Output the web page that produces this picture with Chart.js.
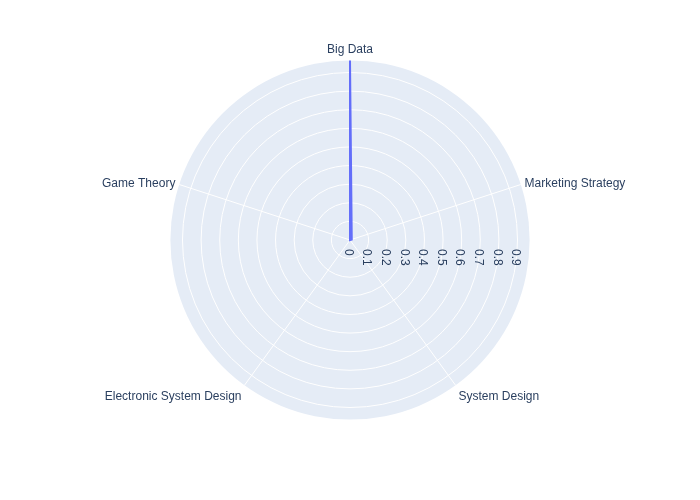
<!DOCTYPE html>
<html>
<head>
<meta charset="utf-8">
<script src="https://cdn.jsdelivr.net/npm/chart.js@4"></script>
<style>
  html, body { margin: 0; padding: 0; background: #ffffff; }
  #wrap { width: 700px; height: 500px; }
</style>
</head>
<body>
<div id="wrap"><canvas id="c" width="700" height="500"></canvas></div>
<script>
const categories = ['Big Data', 'Marketing Strategy', 'System Design', 'Electronic System Design', 'Game Theory'];
const seriesValues = [0.965, 0.01, 0, 0, 0];
const tickValues = [0, 0.1, 0.2, 0.3, 0.4, 0.5, 0.6, 0.7, 0.8, 0.9];
const tickLabels = ['0', '0.1', '0.2', '0.3', '0.4', '0.5', '0.6', '0.7', '0.8', '0.9'];
const radialMax = 0.965;

const FONT = '"Liberation Sans", Arial, sans-serif';
const TEXT = '#2a3f5f';

const polarBg = {
  id: 'polarBg',
  beforeDraw(chart) {
    const s = chart.scales.r;
    const ctx = chart.ctx;
    ctx.save();
    ctx.beginPath();
    ctx.arc(s.xCenter, s.yCenter, s.drawingArea, 0, Math.PI * 2);
    ctx.fillStyle = '#e5ecf6';
    ctx.fill();
    ctx.restore();
  }
};

const radialTicks = {
  id: 'radialTicks',
  afterDraw(chart) {
    const s = chart.scales.r;
    const ctx = chart.ctx;
    ctx.save();
    ctx.font = '12px ' + FONT;
    ctx.fillStyle = TEXT;
    ctx.textAlign = 'left';
    ctx.textBaseline = 'middle';
    tickValues.forEach((v, i) => {
      const d = s.getDistanceFromCenterForValue(v);
      ctx.save();
      ctx.translate(s.xCenter + d - 2, s.yCenter + 9);
      ctx.rotate(Math.PI / 2);
      ctx.fillText(tickLabels[i], 0, 0);
      ctx.restore();
    });
    ctx.restore();
  }
};

new Chart(document.getElementById('c'), {
  type: 'radar',
  data: {
    labels: categories,
    datasets: [{
      data: seriesValues,
      borderColor: '#636efa',
      borderWidth: 2,
      fill: false,
      pointRadius: 0,
      pointHoverRadius: 0,
      tension: 0
    }]
  },
  options: {
    responsive: false,
    animation: false,
    events: [],
    layout: { padding: { top: 33, bottom: 71, left: 0, right: 0 } },
    plugins: { legend: { display: false }, tooltip: { enabled: false } },
    scales: {
      r: {
        min: 0,
        max: radialMax,
        startAngle: 0,
        grid: { circular: true, color: '#ffffff', lineWidth: 1 },
        angleLines: { color: '#ffffff', lineWidth: 1 },
        ticks: { display: false, stepSize: 0.1, includeBounds: false, maxTicksLimit: 20 },
        pointLabels: {
          color: TEXT,
          padding: (ctx) => (ctx.index === 2 || ctx.index === 3) ? 5 : 4,
          font: (ctx) => ({
            family: FONT,
            size: 12,
            lineHeight: (ctx.index === 1 || ctx.index === 4) ? 0.01 : 1.2
          })
        }
      }
    }
  },
  plugins: [polarBg, radialTicks]
});
</script>
</body>
</html>
